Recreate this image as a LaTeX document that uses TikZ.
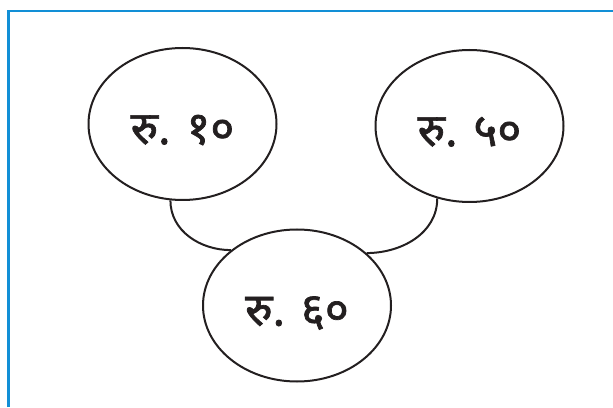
\documentclass[tikz,border=0pt]{standalone}
\usepackage{fontspec}
\newfontfamily\devfont[Script=Devanagari,FakeBold=1.5]{Noto Sans}
\usetikzlibrary{shapes.geometric}
\definecolor{frameblue}{RGB}{18,143,214}
\definecolor{inkblack}{RGB}{35,31,32}

\begin{document}
\begin{tikzpicture}[
  x=1pt, y=1pt,
  coin/.style={draw=inkblack, ellipse, line width=2pt, minimum width=188pt,
               minimum height=152pt, inner sep=0pt, text=inkblack,
               text height=40pt, text depth=0pt,
               font=\devfont\fontsize{46}{52}\selectfont},
  link/.style={draw=inkblack, line width=2pt},
]
\useasboundingbox (0,0) rectangle (613,407);

% ---------- frame ----------
\draw[frameblue, line width=2.5pt] (8.5,0) -- (8.5,396) -- (613,396);

% ---------- coins ----------
\node[coin] (r10) at (182.5,283) {रु. १०};
\node[coin] (r50) at (469.5,281) {रु. ५०};
\node[coin] (r60) at (297,101.5) {रु. ६०};

% ---------- joins ----------
\draw[link] (r10.-99) to[out=-90, in=180] (r60.140);
\draw[link] (r50.-114) to[out=-90, in=0] (r60.37);
\end{tikzpicture}
\end{document}
